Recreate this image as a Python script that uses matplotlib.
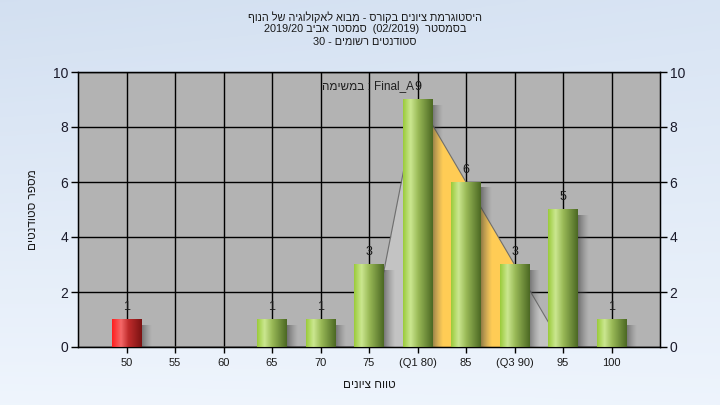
import re
import numpy as np
import matplotlib
matplotlib.use("Agg")
import matplotlib.pyplot as plt
from matplotlib.colors import LinearSegmentedColormap

# ---------------- data ----------------
categories = ["50", "55", "60", "65", "70", "75", "(Q1 80)", "85", "(Q3 90)", "95", "100"]
counts = [1, 0, 0, 1, 1, 3, 9, 6, 3, 5, 1]
failing = [True, False, False, False, False, False, False, False, False, False, False]
area_values = [0, 0, 0, 0, 0, 0, 9, 6, 3, 0, 0]   # distribution outline
q1_index, q3_index = 6, 8
title_lines = ["היסטוגרמת ציונים בקורס - מבוא לאקולוגיה של הנוף",
               "בסמסטר  (02/2019)  סמסטר אביב 2019/20",
               "סטודנטים רשומים - 30"]
task_label = "Final_A : במשימה"
x_label = "טווח ציונים"
y_label = "מספר סטודנטים"
y_ticks = [0, 2, 4, 6, 8, 10]

FONT = ["Liberation Sans", "DejaVu Sans"]
plt.rcParams["font.family"] = FONT

_mirror = {"(": ")", ")": "(", "[": "]", "]": "["}


def rtl(s):
    """Very small bidi: render an RTL paragraph in visual order."""
    runs = re.findall(r"[A-Za-z0-9][A-Za-z0-9/_.]*|[^A-Za-z0-9]+", s)
    out = []
    for r in reversed(runs):
        if re.match(r"[A-Za-z0-9]", r):
            out.append(r)
        else:
            out.append("".join(_mirror.get(c, c) for c in reversed(r)))
    return "".join(out)


W, H = 720, 405
fig = plt.figure(figsize=(W / 100, H / 100), dpi=100)

# background gradient
bg = fig.add_axes([0, 0, 1, 1], zorder=-10)
yy, xx = np.mgrid[0:1:200j, 0:1:200j]
t = np.clip(0.75 * yy + 0.25 * (1 - xx) * yy + 0.2 * xx, 0, 1)
c0 = np.array([0.827, 0.878, 0.945])
c1 = np.array([0.937, 0.961, 0.992])
img = c0[None, None, :] * (1 - t[..., None]) + c1[None, None, :] * t[..., None]
bg.imshow(img, extent=(0, 1, 0, 1), aspect="auto", origin="upper")
bg.set_axis_off()

ax = fig.add_axes([78 / W, 58 / H, 582 / W, 275 / H])
ax.set_facecolor("#b3b3b3")
x = np.arange(len(categories))
ax.set_xlim(-1, len(categories))
ax.set_ylim(0, 10)

# grid
ax.set_axisbelow(True)
ax.grid(True, color="black", linewidth=1.0, zorder=0)

# distribution area
ax.fill_between(x, 0, area_values, color="#c3c3c3", zorder=1, linewidth=0)
mask = (x >= q1_index) & (x <= q3_index)
ax.fill_between(x[mask], 0, np.array(area_values)[mask], color="#ffcc55",
                zorder=1.1, linewidth=0)
ax.plot(x, area_values, color="#6e6e6e", linewidth=0.8, zorder=1.2)

green_cmap = LinearSegmentedColormap.from_list(
    "g", [(0, "#9acb3a"), (0.25, "#cbe790"), (0.5, "#9bbb58"), (1, "#4b6823")])
red_cmap = LinearSegmentedColormap.from_list(
    "r", [(0, "#ff1e1e"), (0.3, "#f56868"), (0.55, "#c02c2c"), (1, "#7a1212")])
shadow_cmap = LinearSegmentedColormap.from_list(
    "s", [(0, (0.2, 0.2, 0.2, 0.6)), (0.5, (0.3, 0.3, 0.3, 0.3)), (1, (0.4, 0.4, 0.4, 0.0))])

bw = 0.6
grad = np.linspace(0, 1, 128)[None, :]
for xi, v, f in zip(x, counts, failing):
    if v <= 0:
        continue
    # shadow
    ax.imshow(grad, cmap=shadow_cmap, extent=(xi + bw / 2 - 0.02, xi + bw / 2 + 0.22, 0, v - 0.2),
              aspect="auto", zorder=2, interpolation="bilinear")
    ax.imshow(grad, cmap=red_cmap if f else green_cmap,
              extent=(xi - bw / 2, xi + bw / 2, 0, v), aspect="auto", zorder=3,
              interpolation="bilinear")
    ax.annotate(str(v), (xi, v), xytext=(0, 4.5), textcoords="offset points",
                ha="center", va="bottom", fontsize=9, color="#1a1a1a", zorder=5)

ax.set_xlim(-1, len(categories))
ax.set_ylim(0, 10)

ax.set_xticks(x)
ax.set_xticklabels(categories, fontsize=8, color="#1a1a1a")
ax.set_yticks(y_ticks)
ax.tick_params(axis="y", labelsize=10, length=5, width=1, pad=2, labelcolor="#1a1a2a")
ax.tick_params(axis="x", length=4, width=1, pad=4)
for s in ax.spines.values():
    s.set_color("black")
    s.set_linewidth(1.0)

ax2 = ax.twinx()
ax2.set_ylim(0, 10)
ax2.set_yticks(y_ticks)
ax2.tick_params(axis="y", labelsize=10, length=5, width=1, pad=2, labelcolor="#1a1a2a")

ax.text(0.498, 0.947, rtl(task_label), transform=ax.transAxes, ha="center",
        va="center", fontsize=8.5, color="#202020", zorder=6)

ax.set_xlabel(rtl(x_label), fontsize=8.5, labelpad=8, color="#1a1a1a")
ax.set_ylabel(rtl(y_label), fontsize=8.5, labelpad=10, color="#1a1a1a")

for i, line in enumerate(title_lines):
    fig.text(0.507, 1 - (17 + 12.5 * i) / H, rtl(line), ha="center", va="center",
             fontsize=7.8, color="#1a1a1a")

fig.savefig("out.png", dpi=100)
